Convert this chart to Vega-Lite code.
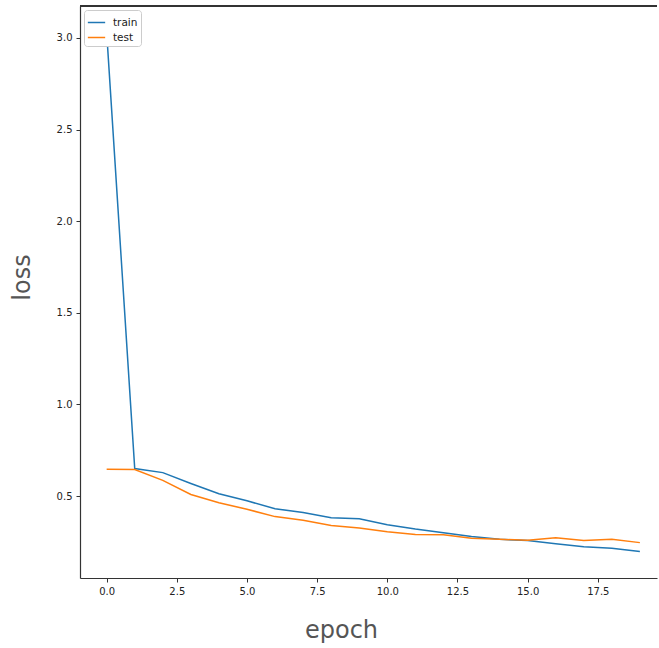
{
  "$schema": "https://vega.github.io/schema/vega-lite/v6.json",
  "width": 577,
  "height": 572,
  "autosize": "none",
  "padding": {"left": 80, "top": 6, "right": 2, "bottom": 70},
  "background": "white",
  "config": {
    "view": {"stroke": null},
    "font": "DejaVu Sans",
    "axis": {"grid": false, "domainColor": "#333", "tickColor": "#333", "labelColor": "#222", "labelFontSize": 10, "labelFont": "DejaVu Sans", "tickSize": 4, "domainWidth": 1.2}
  },
  "data": {
    "values": [
      {"epoch": 0, "loss": 3.03, "series": "train"},
      {"epoch": 1, "loss": 0.650, "series": "train"},
      {"epoch": 2, "loss": 0.628, "series": "train"},
      {"epoch": 3, "loss": 0.569, "series": "train"},
      {"epoch": 4, "loss": 0.513, "series": "train"},
      {"epoch": 5, "loss": 0.474, "series": "train"},
      {"epoch": 6, "loss": 0.431, "series": "train"},
      {"epoch": 7, "loss": 0.410, "series": "train"},
      {"epoch": 8, "loss": 0.382, "series": "train"},
      {"epoch": 9, "loss": 0.376, "series": "train"},
      {"epoch": 10, "loss": 0.344, "series": "train"},
      {"epoch": 11, "loss": 0.320, "series": "train"},
      {"epoch": 12, "loss": 0.300, "series": "train"},
      {"epoch": 13, "loss": 0.280, "series": "train"},
      {"epoch": 14, "loss": 0.264, "series": "train"},
      {"epoch": 15, "loss": 0.258, "series": "train"},
      {"epoch": 16, "loss": 0.240, "series": "train"},
      {"epoch": 17, "loss": 0.224, "series": "train"},
      {"epoch": 18, "loss": 0.215, "series": "train"},
      {"epoch": 19, "loss": 0.197, "series": "train"},
      {"epoch": 0, "loss": 0.646, "series": "test"},
      {"epoch": 1, "loss": 0.645, "series": "test"},
      {"epoch": 2, "loss": 0.586, "series": "test"},
      {"epoch": 3, "loss": 0.509, "series": "test"},
      {"epoch": 4, "loss": 0.464, "series": "test"},
      {"epoch": 5, "loss": 0.428, "series": "test"},
      {"epoch": 6, "loss": 0.388, "series": "test"},
      {"epoch": 7, "loss": 0.368, "series": "test"},
      {"epoch": 8, "loss": 0.340, "series": "test"},
      {"epoch": 9, "loss": 0.326, "series": "test"},
      {"epoch": 10, "loss": 0.306, "series": "test"},
      {"epoch": 11, "loss": 0.291, "series": "test"},
      {"epoch": 12, "loss": 0.289, "series": "test"},
      {"epoch": 13, "loss": 0.270, "series": "test"},
      {"epoch": 14, "loss": 0.264, "series": "test"},
      {"epoch": 15, "loss": 0.259, "series": "test"},
      {"epoch": 16, "loss": 0.273, "series": "test"},
      {"epoch": 17, "loss": 0.257, "series": "test"},
      {"epoch": 18, "loss": 0.264, "series": "test"},
      {"epoch": 19, "loss": 0.246, "series": "test"}
    ]
  },
  "layer": [
    {
      "mark": {"type": "rule", "color": "#333", "strokeWidth": 1.2},
      "encoding": {"y": {"datum": 3.174, "type": "quantitative", "scale": {"domain": [0.053, 3.174], "nice": false, "zero": false}}}
    },
    {
      "mark": {"type": "line", "strokeWidth": 1.5},
      "encoding": {
        "x": {
          "field": "epoch", "type": "quantitative",
          "scale": {"domain": [-0.95, 19.61], "nice": false, "zero": false},
          "axis": {"values": [0, 2.5, 5, 7.5, 10, 12.5, 15, 17.5], "format": ".1f", "labelPadding": 4,
                   "title": "epoch", "titleFontSize": 24, "titleFontWeight": "normal", "titleColor": "#555", "titleFont": "DejaVu Sans",
                   "titleX": 261, "titleY": 52, "titleBaseline": "middle", "titleAlign": "center"}
        },
        "y": {
          "field": "loss", "type": "quantitative",
          "scale": {"domain": [0.053, 3.174], "nice": false, "zero": false},
          "axis": {"values": [0.5, 1.0, 1.5, 2.0, 2.5, 3.0], "format": ".1f", "labelPadding": 4,
                   "title": "loss", "titleFontSize": 24, "titleFontWeight": "normal", "titleColor": "#555", "titleFont": "DejaVu Sans",
                   "titleX": -58, "titleY": 271, "titleBaseline": "middle", "titleAlign": "center", "titleAngle": -90}
        },
        "color": {
          "field": "series", "type": "nominal",
          "scale": {"domain": ["train", "test"], "range": ["#1f77b4", "#ff7f0e"]},
          "legend": {"title": null, "orient": "none", "legendX": 4, "legendY": 4, "symbolType": "stroke", "symbolSize": 300, "symbolStrokeWidth": 1.5,
                     "labelFontSize": 10.5, "labelOffset": 7, "labelColor": "#222", "fillColor": "white", "strokeColor": "#ccc", "padding": 3, "cornerRadius": 3, "rowPadding": 0}
        }
      }
    }
  ]
}
